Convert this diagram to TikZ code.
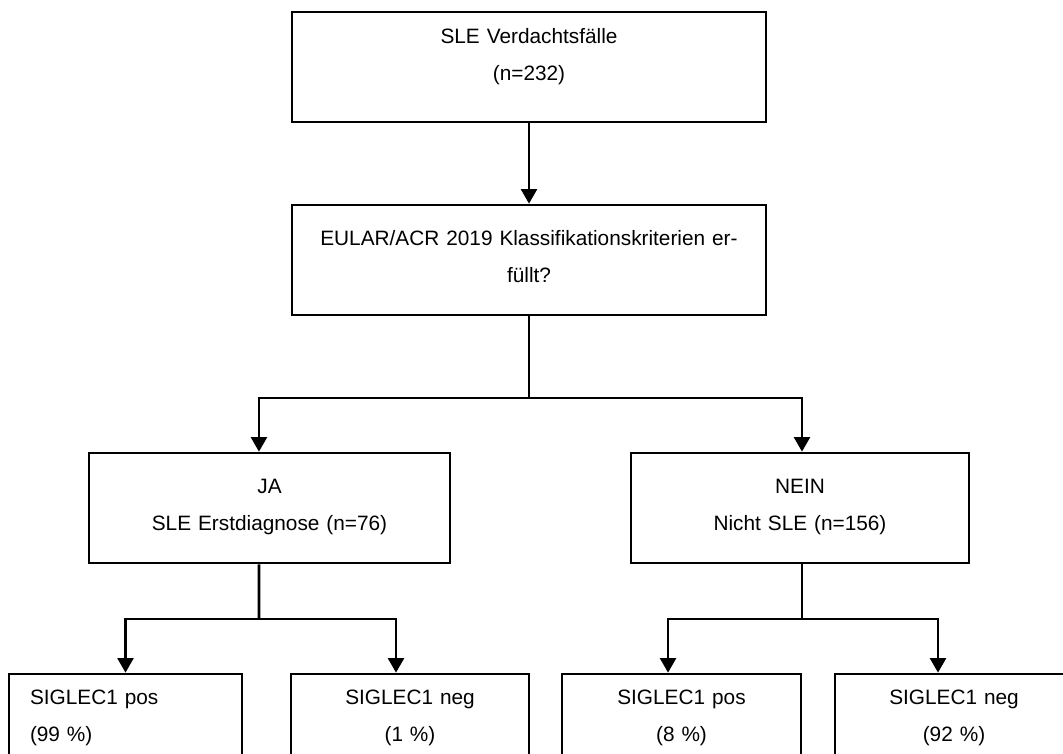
\documentclass[tikz,border=0pt]{standalone}
\usepackage{fontspec}
\setmainfont{Liberation Sans}
\usetikzlibrary{arrows.meta,positioning,calc}

\begin{document}
\begin{tikzpicture}[
  x=0.75pt, y=-0.75pt,
  box/.style={draw, line width=2pt, inner sep=0pt, align=center,
              font=\fontsize{15.6}{27.8}\selectfont, minimum height=82.5pt},
  hi/.style={text height=30pt, text depth=52.5pt},
  lo/.style={text height=22.5pt, text depth=60pt},
  line/.style={line width=2pt},
  arr/.style={-{Triangle[width=12pt, length=11pt]}, line width=2pt},
]
\useasboundingbox (0,0) rectangle (1063,753);
\clip (0,0) rectangle (1063,753);

% Screening and criteria
\node[box, text width=355.5pt, text height=23.25pt, text depth=59.25pt] (susp) at (529,67) {SLE Verdachtsfälle\\(n=232)};
\node[box, hi, text width=355.5pt] (crit) at (529,260) {EULAR/ACR 2019 Klassifikationskriterien er-\\füllt?};

% Yes / no
\node[box, hi, text width=270.75pt] (ja) at (269.5,508) {JA\\SLE Erstdiagnose (n=76)};
\node[box, hi, text width=253.5pt] (nein) at (800,508) {NEIN\\Nicht SLE (n=156)};

% SIGLEC1 results
\node[box, lo, align=left, text width=143.25pt, inner xsep=15.75pt] (pos1) at (125.5,729) {SIGLEC1 pos\\(99 \%)};
\node[box, lo, text width=178.5pt] (neg1) at (410,729) {SIGLEC1 neg\\(1 \%)};
\node[box, lo, text width=179.25pt] (pos2) at (681.5,729) {SIGLEC1 pos\\(8 \%)};
\node[box, lo, text width=178.5pt] (neg2) at (954,729) {SIGLEC1 neg\\(92 \%)};

\coordinate (s1) at (529,398);
\coordinate (s2) at (259,619);
\coordinate (s3) at (802,619);

\draw[arr] (susp) -- (crit);
\draw[line] (crit) -- (s1);
\draw[arr] (s1) -| ([xshift=-7.9pt]ja.north);
\draw[arr] (s1) -| ([xshift=1.5pt]nein.north);

\draw[line] ([xshift=-7.9pt]ja.south) -- (s2);
\draw[arr] (s2) -| (pos1.north);
\draw[arr] (s2) -| ([xshift=-10.5pt]neg1.north);

\draw[line] ([xshift=1.5pt]nein.south) -- (s3);
\draw[arr] (s3) -| ([xshift=-10.1pt]pos2.north);
\draw[arr] (s3) -| ([xshift=-12pt]neg2.north);
\end{tikzpicture}
\end{document}
